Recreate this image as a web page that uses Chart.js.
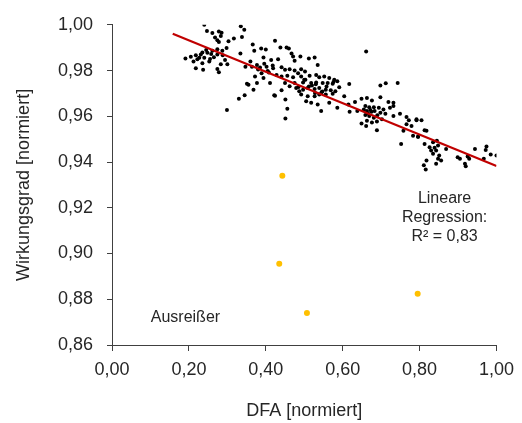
<!DOCTYPE html>
<html><head><meta charset="utf-8">
<script src="https://cdn.jsdelivr.net/npm/chart.js@4/dist/chart.umd.min.js"></script>
<style>html,body{margin:0;padding:0;background:#fff}canvas{display:block}</style>
</head><body>
<canvas id="c" width="522" height="423"></canvas>
<script>
// Measured points: DFA (normalised) and efficiency (normalised)
const dfa = [
0.240,0.247,0.261,0.278,0.285,0.283,0.268,0.274,0.278,0.303,0.317,0.335,0.344,0.338,0.298,0.287,0.274,0.261,0.248,0.235,
0.231,0.218,0.191,0.227,0.240,0.222,0.255,0.253,0.274,0.288,0.334,0.294,0.300,0.283,0.235,0.218,0.237,0.274,0.278,0.347,
0.351,0.345,0.330,0.299,0.205,0.212,0.245,0.265,0.258,
0.424,0.366,0.388,0.400,0.370,0.438,0.454,0.460,0.467,0.471,0.490,0.512,0.527,0.475,0.432,0.414,0.394,0.360,0.535,0.377,
0.364,0.385,0.402,0.419,0.441,0.450,0.462,0.475,0.492,0.502,0.484,0.389,0.408,0.428,0.372,0.394,0.441,0.456,0.471,0.492,
0.514,0.531,0.539,0.552,0.565,0.578,0.377,0.411,0.450,0.475,0.497,0.518,0.531,0.548,0.561,0.574,0.355,0.368,0.462,0.479,
0.497,0.509,0.527,0.539,0.556,0.569,0.441,0.492,0.509,0.527,0.539,0.556,0.424,0.505,0.518,0.535,0.565,0.451,0.544,0.456,
0.451,0.422,0.520,0.545,0.500,0.485,0.528,0.512,0.380,0.396,0.405,0.418,0.530,0.547,0.558,0.503,0.487,
0.586,0.576,0.591,0.581,0.574,0.604,0.617,0.698,0.712,0.743,0.586,0.615,0.632,0.649,0.663,0.676,0.698,0.719,0.732,0.732,
0.659,0.669,0.681,0.694,0.706,0.723,0.655,0.663,0.675,0.683,0.638,0.618,0.698,0.711,0.659,0.669,0.681,0.732,0.749,0.766,
0.792,0.772,0.663,0.676,0.689,0.649,0.702,0.661,0.766,0.779,0.689,0.758,0.783,0.796,0.752,0.661,0.666,0.672,0.690,
0.805,0.792,0.813,0.818,0.796,0.813,0.835,0.845,0.848,0.826,0.839,0.830,0.843,0.869,0.835,0.851,0.848,0.856,0.843,0.818,
0.811,0.816,0.899,0.905,0.925,0.929,0.920,0.918,0.944,0.974,0.972,0.985,1.000,0.967
];
const eta = [
1.000,0.9973,0.9964,0.9971,0.9965,0.9951,0.9944,0.9932,0.9925,0.9928,0.9940,0.9994,0.9978,0.9947,0.9899,0.9886,0.9893,0.9886,0.9878,0.9879,
0.9870,0.9867,0.9853,0.9856,0.9856,0.9849,0.9850,0.9839,0.9870,0.9867,0.9875,0.9846,0.9827,0.9827,0.9832,0.9810,0.9803,0.9807,0.9793,0.9817,
0.9742,0.9692,0.9677,0.9627,0.9860,0.9840,0.9890,0.9858,0.9872,
0.9930,0.9914,0.9896,0.9892,0.9886,0.9901,0.9901,0.9896,0.9875,0.9861,0.9861,0.9853,0.9857,0.9843,0.9849,0.9846,0.9857,0.9839,0.9824,0.9824,
0.9817,0.9813,0.9817,0.9810,0.9814,0.9803,0.9806,0.9800,0.9806,0.9796,0.9788,0.9788,0.9791,0.9781,0.9774,0.9767,0.9774,0.9777,0.9771,0.9774,
0.9777,0.9781,0.9771,0.9774,0.9767,0.9760,0.9745,0.9745,0.9745,0.9745,0.9748,0.9745,0.9748,0.9745,0.9745,0.9742,0.9738,0.9716,0.9731,0.9724,
0.9716,0.9724,0.9719,0.9724,0.9716,0.9714,0.9714,0.9695,0.9688,0.9688,0.9695,0.9695,0.9690,0.9666,0.9659,0.9652,0.9659,0.9673,0.9623,0.9633,
0.9590,0.9692,0.9735,0.9705,0.9760,0.9728,0.9702,0.9730,0.9805,0.9830,0.9798,0.9822,0.9740,0.9708,0.9730,0.9760,0.9710,
0.9753,0.9750,0.9727,0.9709,0.9698,0.9688,0.9741,0.9735,0.9744,0.9745,0.9637,0.9652,0.9662,0.9677,0.9680,0.9669,0.9683,0.9663,0.9659,0.9645,
0.9645,0.9640,0.9640,0.9637,0.9630,0.9637,0.9630,0.9623,0.9620,0.9623,0.9623,0.9620,0.9616,0.9611,0.9606,0.9601,0.9594,0.9601,0.9611,0.9597,
0.9587,0.9583,0.9580,0.9573,0.9577,0.9568,0.9587,0.9558,0.9565,0.9558,0.9539,0.9537,0.9515,0.9511,0.9479,0.9883,0.9612,0.9628,0.9605,
0.9583,0.9583,0.9539,0.9537,0.9511,0.9479,0.9486,0.9493,0.9472,0.9465,0.9462,0.9450,0.9450,0.9457,0.9436,0.9429,0.9414,0.9407,0.9392,0.9407,
0.9386,0.9367,0.9421,0.9414,0.9424,0.9414,0.9381,0.9392,0.9457,0.9468,0.9453,0.9433,0.9429,0.9414
];
const outlierDfa = [0.443, 0.435, 0.507, 0.795];
const outlierEta = [0.934, 0.8955, 0.874, 0.8824];
const regDfa = [0.158, 1.000];
const regEta = [0.9961, 0.9383];
const xTickValues = [0, 0.2, 0.4, 0.6, 0.8, 1.0];
const yTickValues = [0.86, 0.88, 0.90, 0.92, 0.94, 0.96, 0.98, 1.00];
const regLabel = ['Lineare', 'Regression:', 'R² = 0,83'];
const regLabelPos = [0.865, 0.9221];
const outlierLabel = 'Ausreißer';
const outlierLabelPos = [0.191, 0.870];

const FONT = "'Liberation Sans', Arial, sans-serif";
const TXT = '#262626';
const AX = '#404040';

const fmt = v => v.toFixed(2).replace('.', ',');

const labelPlugin = {
  id: 'labels',
  afterDatasetsDraw(chart) {
    const {ctx, scales: {x, y}} = chart;
    ctx.save();
    ctx.fillStyle = TXT;
    ctx.font = '16px ' + FONT;
    ctx.textAlign = 'center';
    ctx.textBaseline = 'alphabetic';
    const lx = x.getPixelForValue(regLabelPos[0]);
    const ly = y.getPixelForValue(regLabelPos[1]);
    regLabel.forEach((t, i) => ctx.fillText(t, lx, ly + i * 19));
    ctx.fillText(outlierLabel, x.getPixelForValue(outlierLabelPos[0]), y.getPixelForValue(outlierLabelPos[1]));
    ctx.restore();
  }
};

new Chart(document.getElementById('c'), {
  type: 'scatter',
  data: {
    datasets: [
      {
        label: 'Regression',
        data: regDfa.map((v, i) => ({x: v, y: regEta[i]})),
        showLine: true,
        borderColor: '#C00000',
        borderWidth: 2.2,
        pointRadius: 0,
        fill: false
      },
      {
        label: 'Ausreißer',
        data: outlierDfa.map((v, i) => ({x: v, y: outlierEta[i]})),
        backgroundColor: '#FFC000',
        borderColor: '#FFC000',
        borderWidth: 0,
        pointRadius: 3
      },
      {
        label: 'Messwerte',
        data: dfa.map((v, i) => ({x: v, y: eta[i]})),
        backgroundColor: '#000000',
        borderColor: '#000000',
        borderWidth: 0,
        pointRadius: 2
      }
    ]
  },
  options: {
    responsive: false,
    animation: false,
    layout: {padding: {top: 21, right: 21, left: 0, bottom: 0}},
    plugins: {legend: {display: false}, tooltip: {enabled: false}},
    scales: {
      x: {
        type: 'linear', min: 0, max: 1,
        afterBuildTicks: s => { s.ticks = xTickValues.map(v => ({value: v})); },
        afterFit: s => { s.height = 78; },
        ticks: {callback: v => fmt(v), color: TXT, font: {family: FONT, size: 18}, padding: 8, maxRotation: 0},
        grid: {display: true, drawOnChartArea: false, drawTicks: true, tickLength: 6, color: AX},
        border: {display: true, color: AX, width: 1},
        title: {display: true, text: 'DFA [normiert]', color: TXT, font: {family: FONT, size: 18}, padding: {top: 0, bottom: 1}}
      },
      y: {
        type: 'linear', min: 0.86, max: 1.0,
        afterBuildTicks: s => { s.ticks = yTickValues.map(v => ({value: v})); },
        afterFit: s => { s.width = 112; },
        ticks: {callback: v => fmt(v), color: TXT, font: {family: FONT, size: 18}, padding: 14},
        grid: {display: true, drawOnChartArea: false, drawTicks: true, tickLength: 5, color: AX},
        border: {display: true, color: AX, width: 1},
        title: {display: true, text: 'Wirkungsgrad [normiert]', color: TXT, font: {family: FONT, size: 18}, padding: {top: 13, bottom: 0}}
      }
    }
  },
  plugins: [labelPlugin]
});
</script>
</body></html>
